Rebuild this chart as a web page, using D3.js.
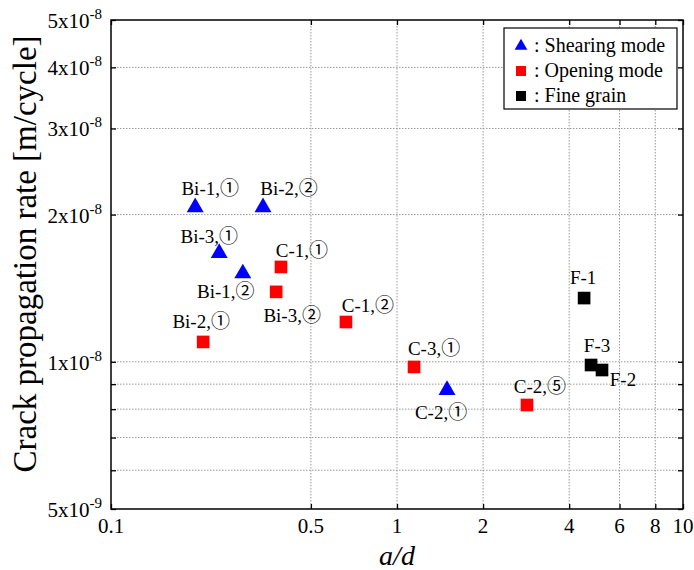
<!DOCTYPE html>
<html>
<head>
<meta charset="utf-8">
<script src="https://cdn.jsdelivr.net/npm/d3@7"></script>
<style>
    body { margin: 0; background: #fff; }
    text { font-family: "Liberation Serif", "Times New Roman", "Noto Sans CJK JP", serif; }
</style>
</head>
<body>
<svg id="chart" width="694" height="570"></svg>
<script>
// shearing mode (blue triangles)
var shearX = [0.197, 0.340, 0.239, 0.289, 1.496];
var shearY = [2.07e-8, 2.07e-8, 1.668e-8, 1.516e-8, 8.75e-9];
var shearLabels = ["Bi-1,\u2460", "Bi-2,\u2461", "Bi-3,\u2460", "Bi-1,\u2461", "C-2,\u2460"];

// opening mode (red squares)
var openX = [0.393, 0.378, 0.663, 0.210, 1.147, 2.848];
var openY = [1.563e-8, 1.39e-8, 1.206e-8, 1.098e-8, 9.76e-9, 8.16e-9];
var openLabels = ["C-1,\u2460", "Bi-3,\u2461", "C-1,\u2461", "Bi-2,\u2460", "C-3,\u2460", "C-2,\u2464"];

// fine grain (black squares)
var fineX = [4.51, 4.77, 5.21];
var fineY = [1.35e-8, 9.85e-9, 9.62e-9];
var fineLabels = ["F-1", "F-3", "F-2"];

var xTicks = [0.1, 0.5, 1, 2, 4, 6, 8, 10];
var xTickLabels = ["0.1", "0.5", "1", "2", "4", "6", "8", "10"];
var yTicks = [5e-9, 6e-9, 7e-9, 8e-9, 9e-9, 1e-8, 2e-8, 3e-8, 4e-8, 5e-8];
var yTickMantissa = ["5", "", "", "", "", "1", "2", "3", "4", "5"];
var yTickExp = ["-9", "", "", "", "", "-8", "-8", "-8", "-8", "-8"];

var legendLabels = [": Shearing mode", ": Opening mode", ": Fine grain"];

// label placement relative to each marker (layout only)
var shearOffsets = [[15, -12], [26, -12], [-10, -10], [-17, 25], [-6, 29]];
var openOffsets = [[21, -10], [16, 30], [22, -10], [-2, -14], [20, -12], [13, -12]];
var fineOffsets = [[-1, -14], [6, -13], [21, 16]];

var svg = d3.select("svg#chart");
var margin = { left: 111, top: 20, right: 11, bottom: 61 };
var width = +svg.attr("width") - margin.left - margin.right,
    height = +svg.attr("height") - margin.top - margin.bottom;

var g = svg.append("g")
    .attr("transform", "translate(" + margin.left + "," + margin.top + ")");

var x = d3.scaleLog().domain([0.1, 10]).range([0, width]);
var y = d3.scaleLog().domain([5e-9, 5e-8]).range([height, 0]);

// grid
g.append("g")
    .selectAll("line")
    .data(xTicks.slice(1, -1))
    .enter()
    .append("line")
    .attr("x1", d => x(d))
    .attr("x2", d => x(d))
    .attr("y1", 0)
    .attr("y2", height)
    .attr("stroke", "#9a9a9a")
    .attr("stroke-width", 1)
    .attr("stroke-dasharray", "1.5,1.5");

g.append("g")
    .selectAll("line")
    .data(yTicks.slice(1, -1))
    .enter()
    .append("line")
    .attr("x1", 0)
    .attr("x2", width)
    .attr("y1", d => y(d))
    .attr("y2", d => y(d))
    .attr("stroke", "#9a9a9a")
    .attr("stroke-width", 1)
    .attr("stroke-dasharray", "1.5,1.5");

// inward ticks on all four sides
var tickLen = 5;
var xAxisB = d3.axisTop(x).tickValues(xTicks).tickSize(tickLen).tickFormat("");
var xAxisT = d3.axisBottom(x).tickValues(xTicks).tickSize(tickLen).tickFormat("");
var yAxisL = d3.axisRight(y).tickValues(yTicks).tickSize(tickLen).tickFormat("");
var yAxisR = d3.axisLeft(y).tickValues(yTicks).tickSize(tickLen).tickFormat("");

g.append("g").attr("transform", "translate(0," + height + ")").call(xAxisB);
g.append("g").call(xAxisT);
g.append("g").call(yAxisL);
g.append("g").attr("transform", "translate(" + width + ",0)").call(yAxisR);

g.selectAll(".domain").remove();
g.selectAll(".tick line").attr("stroke", "#000").attr("stroke-width", 1.3);

g.append("rect")
    .attr("width", width)
    .attr("height", height)
    .attr("fill", "none")
    .attr("stroke", "#000")
    .attr("stroke-width", 1.5);

// tick labels
g.append("g")
    .selectAll("text")
    .data(xTicks)
    .enter()
    .append("text")
    .attr("x", d => x(d))
    .attr("y", height + 24)
    .attr("text-anchor", "middle")
    .style("font-size", "21px")
    .text((d, i) => xTickLabels[i]);

var yLab = g.append("g")
    .selectAll("text")
    .data(yTicks.filter((d, i) => yTickMantissa[i] !== ""))
    .enter()
    .append("text")
    .attr("x", -9)
    .attr("y", d => y(d) + 8)
    .attr("text-anchor", "end")
    .style("font-size", "21px");

yLab.append("tspan")
    .text(d => yTickMantissa[yTicks.indexOf(d)] + "x10");
yLab.append("tspan")
    .attr("dy", -9)
    .style("font-size", "15px")
    .text(d => yTickExp[yTicks.indexOf(d)]);

// axis titles
svg.append("text")
    .attr("x", margin.left + x(1))
    .attr("y", 565)
    .attr("text-anchor", "middle")
    .style("font-size", "28px")
    .style("font-style", "italic")
    .text("a/d");

svg.append("text")
    .attr("transform", "translate(36," + 254 + ") rotate(-90)")
    .attr("text-anchor", "middle")
    .style("font-size", "33px")
    .text("Crack propagation rate [m/cycle]");

// markers
var tri = d3.symbol().type(d3.symbolTriangle).size(125);
var sq = d3.symbol().type(d3.symbolSquare).size(160);

function drawSeries(xs, ys, labels, offsets, shape, color) {
    var pts = xs.map((d, i) => ({ x: d, y: ys[i], label: labels[i], off: offsets[i] }));

    g.append("g")
        .selectAll("path")
        .data(pts)
        .enter()
        .append("path")
        .attr("d", shape)
        .attr("fill", color)
        .attr("transform", d => "translate(" + x(d.x) + "," + y(d.y) + ")");

    g.append("g")
        .selectAll("text")
        .data(pts)
        .enter()
        .append("text")
        .attr("x", d => x(d.x) + d.off[0])
        .attr("y", d => y(d.y) + d.off[1])
        .attr("text-anchor", "middle")
        .style("font-size", "19px")
        .text(d => d.label);
}

drawSeries(shearX, shearY, shearLabels, shearOffsets, tri, "#0000ff");
drawSeries(openX, openY, openLabels, openOffsets, sq, "#ff0000");
drawSeries(fineX, fineY, fineLabels, fineOffsets, sq, "#000000");

// legend
var legend = svg.append("g").attr("transform", "translate(504,28)");

legend.append("rect")
    .attr("width", 173)
    .attr("height", 81)
    .attr("fill", "#fff")
    .attr("stroke", "#000")
    .attr("stroke-width", 1.2);

var legendShapes = [
    d3.symbol().type(d3.symbolTriangle).size(70),
    d3.symbol().type(d3.symbolSquare).size(100),
    d3.symbol().type(d3.symbolSquare).size(100)
];
var legendColors = ["#0000ff", "#ff0000", "#000000"];

var rows = legend.selectAll("g.row")
    .data(legendLabels)
    .enter()
    .append("g")
    .attr("class", "row")
    .attr("transform", (d, i) => "translate(0," + (18 + i * 25) + ")");

rows.append("path")
    .attr("d", (d, i) => legendShapes[i]())
    .attr("fill", (d, i) => legendColors[i])
    .attr("transform", "translate(17,0)");

rows.append("text")
    .attr("x", 30)
    .attr("y", 6)
    .style("font-size", "20px")
    .text(d => d);
</script>
</body>
</html>
